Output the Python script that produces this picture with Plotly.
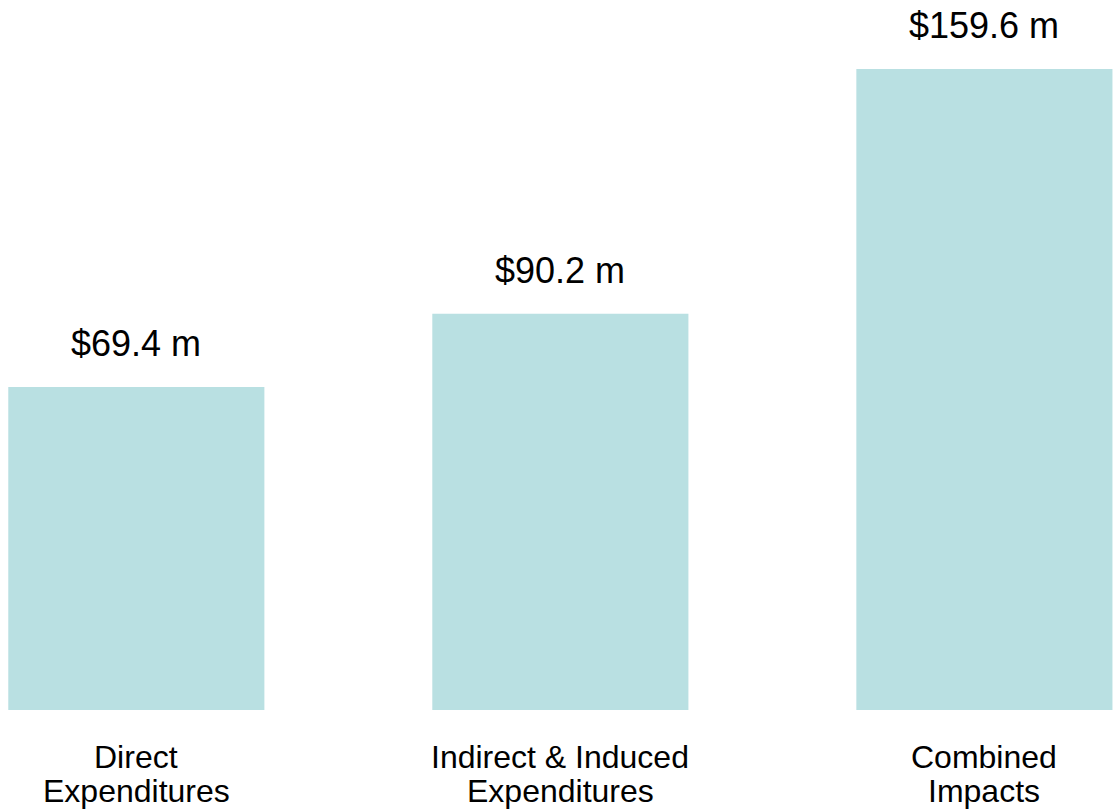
import plotly.graph_objects as go

# Economic impact components (US$ millions)
categories = ["Direct Expenditures", "Indirect & Induced Expenditures", "Combined Impacts"]
label_line1 = ["Direct", "Indirect & Induced", "Combined"]
label_line2 = ["Expenditures", "Expenditures", "Impacts"]
values = [69.4, 90.2, 159.6]
value_labels = ["$69.4 m", "$90.2 m", "$159.6 m"]

# Bars rise from a common floor below zero
baseline = -22.2
y_top = 179.2

BAR_COLOR = "#B9E0E2"
FONT = "Arial, 'Liberation Sans', sans-serif"

fig = go.Figure(
    go.Bar(
        x=categories,
        y=[v - baseline for v in values],
        base=baseline,
        marker=dict(color=BAR_COLOR, line=dict(width=0)),
        width=0.604,
        hoverinfo="skip",
    )
)

annotations = []
for cat, v, txt in zip(categories, values, value_labels):
    annotations.append(dict(
        x=cat, y=v, xref="x", yref="y", text=txt, showarrow=False,
        yanchor="bottom", yshift=21,
        font=dict(family=FONT, size=36, color="#000000"),
    ))
for cat, l1, l2 in zip(categories, label_line1, label_line2):
    annotations.append(dict(
        x=cat, y=0, xref="x", yref="paper", text=l1, showarrow=False,
        yanchor="top", yshift=-27,
        font=dict(family=FONT, size=32, color="#000000"),
    ))
    annotations.append(dict(
        x=cat, y=0, xref="x", yref="paper", text=l2, showarrow=False,
        yanchor="top", yshift=-61,
        font=dict(family=FONT, size=32, color="#000000"),
    ))

fig.update_layout(
    width=1115,
    height=812,
    autosize=False,
    margin=dict(l=0, r=0, t=0, b=102),
    paper_bgcolor="#FFFFFF",
    plot_bgcolor="#FFFFFF",
    showlegend=False,
    annotations=annotations,
    xaxis=dict(
        type="category",
        range=[-0.3215, 2.308],
        showticklabels=False,
        showgrid=False,
        zeroline=False,
        showline=False,
        ticks="",
    ),
    yaxis=dict(
        range=[baseline, y_top],
        visible=False,
        showgrid=False,
        zeroline=False,
    ),
)

fig.write_html("out.html")
